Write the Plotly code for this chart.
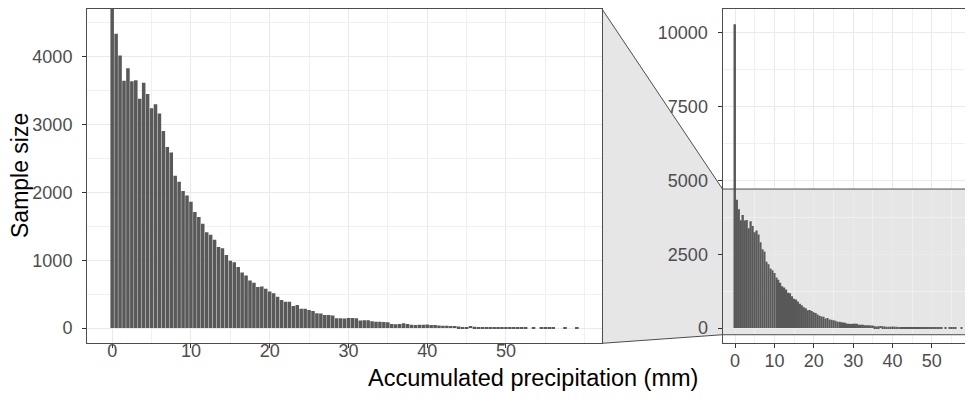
import plotly.graph_objects as go

# ---------------- data ----------------
bin_width = 0.5
precip_bins = [i * bin_width for i in range(119)]  # bin centres 0 .. 59 mm
sample_counts = [
    10280, 4340, 4020, 3645, 3830, 3640, 3655, 3380, 3615, 3450,
    3240, 3300, 3165, 2905, 2670, 2590, 2245, 2157, 2020, 1953,
    1862, 1712, 1638, 1538, 1414, 1375, 1303, 1195, 1178, 1077,
    994, 971, 902, 821, 775, 703, 668, 605, 612, 580,
    540, 514, 464, 415, 390, 388, 326, 341, 287, 284,
    267, 253, 218, 214, 194, 192, 184, 145, 146, 143,
    150, 148, 145, 112, 116, 114, 100, 95, 95, 90,
    85, 62, 56, 60, 70, 62, 51, 46, 50, 50,
    52, 45, 46, 40, 36, 34, 32, 30, 22, 18,
    16, 30, 20, 18, 16, 14, 12, 10, 12, 10,
    8, 8, 8, 8, 6, 6, 0, 5, 0, 6,
    6, 5, 5, 0, 0, 5, 0, 0, 5,
]
x_tick_vals = [0, 10, 20, 30, 40, 50]
y_tick_zoom = [0, 1000, 2000, 3000, 4000]
y_tick_full = [0, 2500, 5000, 7500, 10000]
zoom_ylim = [0, 4480]

x_title = "Accumulated precipitation (mm)"
y_title = "Sample size"

# ---------------- geometry (page pixels; body has an 8px margin) ----------------
PAGE_W, PAGE_H = 973, 405
OFF = 8
W, H = PAGE_W - OFF, PAGE_H - OFF
L_x0, L_x1 = 87, 602
R_x0 = 722.5
P_top, P_bot = 9, 343.3

def fx(p):
    return (p - OFF) / W

def fy(p):
    return 1 - (p - OFF) / H

bar_w = 0.9 * bin_width
lo = min(precip_bins) - bar_w / 2
hi = max(precip_bins) + bar_w / 2
pad = 0.05 * (hi - lo)
x_range = [lo - pad, hi + pad]
x_range_right = [lo - pad, 60.45]  # right panel is cut by the image edge

zpad = 0.05 * (zoom_ylim[1] - zoom_ylim[0])
y_range_zoom = [zoom_ylim[0] - zpad, zoom_ylim[1] + zpad]
ymax = max(sample_counts)
y_range_full = [-0.05 * ymax, 1.05 * ymax]

BAR = "#595959"
FRAME = "#4d4d4d"
GRID = "#EAEAEA"
MINOR = "#F0F0F0"
ZOOMFILL = "#E6E6E6"
FONT = "Liberation Sans, Arial, sans-serif"
TICKFONT = dict(family=FONT, size=18, color="#4D4D4D")

fig = go.Figure()
fig.add_trace(go.Bar(x=precip_bins, y=sample_counts, width=bar_w,
                     marker=dict(color=BAR, line=dict(width=0)),
                     xaxis="x", yaxis="y", showlegend=False, hoverinfo="skip"))
fig.add_trace(go.Bar(x=precip_bins, y=sample_counts, width=bar_w,
                     marker=dict(color=BAR, line=dict(width=0)),
                     xaxis="x2", yaxis="y2", showlegend=False, hoverinfo="skip"))

common_x = dict(tickvals=x_tick_vals, ticks="outside", ticklen=4, tickcolor="#333333",
                tickwidth=1, showgrid=True, gridcolor=GRID, gridwidth=1,
                zeroline=False, showline=True, linecolor=FRAME, linewidth=1,
                tickfont=TICKFONT, automargin=False,
                minor=dict(tick0=0, dtick=5, showgrid=True, gridcolor=MINOR, gridwidth=1))
common_y = dict(ticks="outside", ticklen=4, tickcolor="#333333", tickwidth=1,
                showgrid=True, gridcolor=GRID, gridwidth=1, zeroline=False,
                showline=True, linecolor=FRAME, linewidth=1, tickfont=TICKFONT,
                automargin=False, tickformat="d")

fig.update_layout(
    width=W, height=H,
    margin=dict(l=0, r=0, t=0, b=0),
    paper_bgcolor="white", plot_bgcolor="white",
    barmode="overlay",
    xaxis=dict(common_x, domain=[fx(L_x0), fx(L_x1)], range=x_range, anchor="y",
               mirror=True, ticklabelstandoff=-13),
    yaxis=dict(common_y, domain=[fy(P_bot), fy(P_top)], range=y_range_zoom, anchor="x",
               tickvals=y_tick_zoom, mirror=True, ticklabelstandoff=6,
               minor=dict(tick0=0, dtick=500, showgrid=True, gridcolor=MINOR, gridwidth=1)),
    xaxis2=dict(common_x, domain=[fx(R_x0), 1], range=x_range_right, anchor="y2",
                mirror=True, ticklabelstandoff=-3),
    yaxis2=dict(common_y, domain=[fy(P_bot), fy(P_top)], range=y_range_full, anchor="x2",
                tickvals=y_tick_full, mirror=False, ticklabelstandoff=6,
                minor=dict(tick0=0, dtick=1250, showgrid=True, gridcolor=MINOR, gridwidth=1)),
)

# zoom area in the full panel (fill under grid, border lines on top)
fig.add_shape(type="rect", xref="x2", yref="y2",
              x0=x_range[0], x1=x_range[1] + 5, y0=y_range_zoom[0], y1=y_range_zoom[1],
              fillcolor=ZOOMFILL, line=dict(width=0), layer="below")
for yv in y_range_zoom:
    fig.add_shape(type="line", xref="x2", yref="y2", x0=x_range[0], x1=x_range[1] + 5,
                  y0=yv, y1=yv, line=dict(color=FRAME, width=1))

# connector polygon between panels
def y2paper(v):
    d0, d1 = fy(P_bot), fy(P_top)
    return d0 + (v - y_range_full[0]) / (y_range_full[1] - y_range_full[0]) * (d1 - d0)

ax, bx = fx(L_x1), fx(R_x0)
a_top, a_bot = fy(P_top), fy(P_bot)
b_top, b_bot = y2paper(y_range_zoom[1]), y2paper(y_range_zoom[0])
fig.add_shape(type="path", xref="paper", yref="paper",
              path=f"M {ax} {a_top} L {bx} {b_top} L {bx} {b_bot} L {ax} {a_bot} Z",
              fillcolor=ZOOMFILL, line=dict(width=0), layer="below")
fig.add_shape(type="line", xref="paper", yref="paper", x0=ax, y0=a_top, x1=bx, y1=b_top,
              line=dict(color=FRAME, width=1))
fig.add_shape(type="line", xref="paper", yref="paper", x0=ax, y0=a_bot, x1=bx, y1=b_bot,
              line=dict(color=FRAME, width=1))

# axis titles
fig.add_annotation(text=x_title, xref="paper", yref="paper", x=fx(533), y=fy(378),
                   showarrow=False, xanchor="center", yanchor="middle",
                   font=dict(family=FONT, size=23.5, color="black"))
fig.add_annotation(text=y_title, xref="paper", yref="paper", x=fx(20), y=fy(176),
                   showarrow=False, xanchor="center", yanchor="middle", textangle=-90,
                   font=dict(family=FONT, size=23, color="black"))

fig.write_html("out.html")
